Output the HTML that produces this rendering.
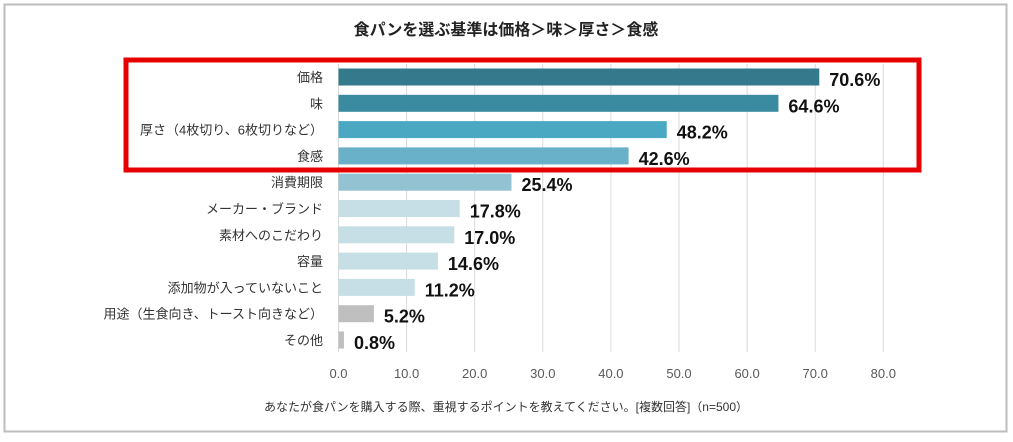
<!DOCTYPE html>
<html><head><meta charset="utf-8"><style>
body{margin:0;background:#fff;width:1013px;height:437px;overflow:hidden;font-family:"Liberation Sans","Noto Sans CJK JP",sans-serif}
</style></head><body>
<svg width="1013" height="437" xmlns="http://www.w3.org/2000/svg" id="chart" font-family="Liberation Sans, Noto Sans CJK JP, sans-serif">
<rect x="4.5" y="4.5" width="1002" height="427" fill="#fff" stroke="#bdbdbd" stroke-width="2"/>
<text x="506" y="35" text-anchor="middle" font-size="16" font-weight="bold" fill="#222">食パンを選ぶ基準は価格＞味＞厚さ＞食感</text>
<g id="grid"></g><g id="bars"></g><g id="ticks"></g>
<rect x="126" y="60" width="793" height="110" fill="none" stroke="#e60000" stroke-width="5"/>
<text x="506" y="411" text-anchor="middle" font-size="12" fill="#333">あなたが食パンを購入する際、重視するポイントを教えてください。[複数回答]（n=500）</text>
</svg>
<script>
const categories=["価格","味","厚さ（4枚切り、6枚切りなど）","食感","消費期限","メーカー・ブランド","素材へのこだわり","容量","添加物が入っていないこと","用途（生食向き、トースト向きなど）","その他"];
const values=[70.6,64.6,48.2,42.6,25.4,17.8,17.0,14.6,11.2,5.2,0.8];
const tickValues=[0,10,20,30,40,50,60,70,80];
const colors=["#347a8c","#3a8ba0","#4aa8c2","#68b1c8","#93c2d3","#c6dee6","#c6dee6","#c6dee6","#c6dee6","#bfbfbf","#bfbfbf"];
const NS="http://www.w3.org/2000/svg";
const x=v=>338.5+v*6.81;
const y=i=>77+i*26.3;
function mk(t,a,p){const e=document.createElementNS(NS,t);for(const k in a)e.setAttribute(k,a[k]);p.appendChild(e);return e;}
const grid=document.getElementById('grid'),bars=document.getElementById('bars'),ticks=document.getElementById('ticks');
tickValues.forEach(v=>{
 const l=mk('line',{x1:x(v),x2:x(v),y1:64,y2:352,stroke:'#d9d9d9','stroke-width':1},grid);
 
 
 const t=mk('text',{x:x(v),y:378,'text-anchor':'middle','font-size':13,fill:'#595959'},ticks);
 t.textContent=v.toFixed(1);
 
 
});
categories.forEach((c,i)=>{
 const r=mk('rect',{x:x(0),y:y(i)-8.5,width:x(values[i])-x(0),height:17,fill:colors[i]},bars);
 
 
 const lb=mk('text',{x:323,y:y(i)+5,'text-anchor':'end','font-size':13,fill:'#333'},bars);
 lb.textContent=c;
 
 
 const vl=mk('text',{x:x(values[i])+10,y:y(i)+9,'font-size':18,'font-weight':'bold',fill:'#111'},bars);
 vl.textContent=values[i].toFixed(1)+'%';
 
 
});
</script>
</body></html>
